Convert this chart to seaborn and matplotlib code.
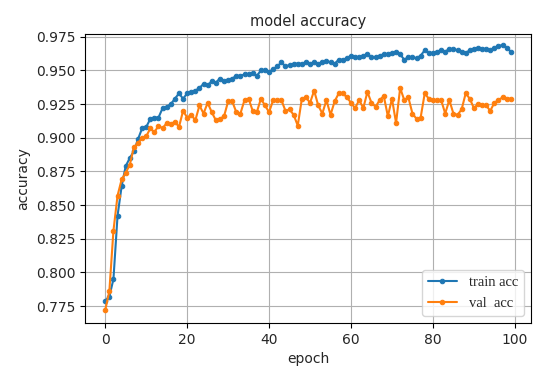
import numpy as np
import pandas as pd
import seaborn as sns
import matplotlib
matplotlib.use("Agg")
import matplotlib.pyplot as plt

epochs = list(range(100))
train_acc = [
    0.779, 0.782, 0.795, 0.842, 0.864, 0.879, 0.885, 0.890, 0.899, 0.907,
    0.908, 0.914, 0.915, 0.915, 0.922, 0.923, 0.925, 0.929, 0.933, 0.929,
    0.933, 0.934, 0.935, 0.937, 0.940, 0.939, 0.942, 0.941, 0.944, 0.942,
    0.943, 0.944, 0.946, 0.946, 0.947, 0.947, 0.948, 0.946, 0.950, 0.950,
    0.949, 0.951, 0.953, 0.956, 0.953, 0.954, 0.955, 0.955, 0.955, 0.956,
    0.955, 0.956, 0.955, 0.956, 0.957, 0.956, 0.955, 0.958, 0.958, 0.959,
    0.961, 0.960, 0.960, 0.961, 0.962, 0.960, 0.960, 0.961, 0.962, 0.962,
    0.963, 0.964, 0.962, 0.958, 0.960, 0.960, 0.959, 0.961, 0.965, 0.963,
    0.963, 0.964, 0.965, 0.964, 0.966, 0.966, 0.965, 0.964, 0.963, 0.965,
    0.966, 0.967, 0.966, 0.966, 0.965, 0.967, 0.968, 0.969, 0.967, 0.964,
]
val_acc = [
    0.772, 0.786, 0.831, 0.857, 0.869, 0.874, 0.880, 0.893, 0.896, 0.900,
    0.901, 0.907, 0.904, 0.909, 0.907, 0.911, 0.910, 0.912, 0.908, 0.920,
    0.915, 0.917, 0.913, 0.924, 0.918, 0.926, 0.919, 0.913, 0.914, 0.916,
    0.927, 0.927, 0.919, 0.918, 0.928, 0.929, 0.920, 0.919, 0.929, 0.924,
    0.919, 0.928, 0.928, 0.928, 0.920, 0.921, 0.917, 0.909, 0.929, 0.930,
    0.926, 0.935, 0.924, 0.918, 0.928, 0.917, 0.927, 0.933, 0.933, 0.930,
    0.926, 0.922, 0.928, 0.922, 0.934, 0.926, 0.923, 0.928, 0.931, 0.916,
    0.929, 0.911, 0.937, 0.928, 0.930, 0.918, 0.914, 0.915, 0.933, 0.929,
    0.928, 0.928, 0.928, 0.918, 0.928, 0.918, 0.917, 0.921, 0.933, 0.929,
    0.922, 0.925, 0.924, 0.924, 0.920, 0.926, 0.928, 0.930, 0.929, 0.929,
]
series_names = ["train acc", "val  acc"]
title = "model accuracy"
xlabel = "epoch"
ylabel = "accuracy"

sns.set_theme(style="ticks")
plt.rcParams["font.family"] = ["DejaVu Sans"]

fig = plt.figure(figsize=(5.5, 3.76), dpi=100)
ax = fig.add_axes([0.1545, 0.141, 0.811, 0.769])

colors = ["#1f77b4", "#ff7f0e"]
for vals, name, c in zip([train_acc, val_acc], series_names, colors):
    sns.lineplot(x=epochs, y=vals, ax=ax, color=c, marker=".", markersize=6.5,
                 markeredgecolor=c, linewidth=1.5, label=name)

ax.grid(True, color="#b0b0b0", linewidth=0.8)
ax.set_title(title, fontsize=10.5)
ax.set_xlabel(xlabel, fontsize=10)
ax.set_ylabel(ylabel, fontsize=10)
ax.set_xticks([0, 20, 40, 60, 80, 100])
ax.set_yticks([0.775, 0.800, 0.825, 0.850, 0.875, 0.900, 0.925, 0.950, 0.975])
ax.set_ylim(0.7624, 0.9772)
ax.yaxis.set_major_formatter(matplotlib.ticker.FormatStrFormatter("%.3f"))
ax.tick_params(labelsize=10, direction="out", length=3.5, width=0.8, color="black")
for s in ax.spines.values():
    s.set_color("black")
    s.set_linewidth(0.8)
leg = ax.legend(loc="lower right", prop={"family": "Liberation Serif", "size": 10.5},
                frameon=True, fancybox=True, framealpha=0.8, edgecolor="#cccccc")

fig.savefig("out.png", dpi=100)
